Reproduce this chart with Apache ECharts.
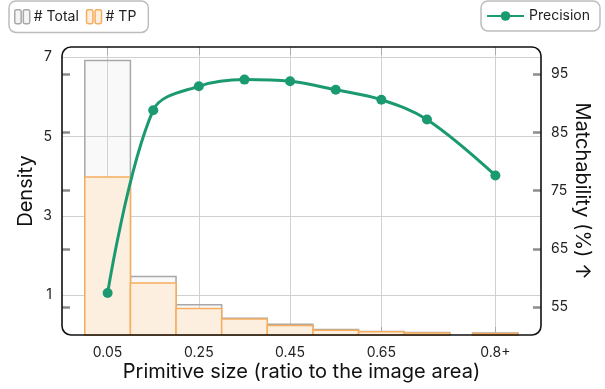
<!DOCTYPE html>
<html>
<head>
<meta charset="utf-8">
<script src="https://cdn.jsdelivr.net/npm/echarts@6/dist/echarts.min.js"></script>
<style>
html,body{margin:0;padding:0;background:#fff;}
#chart{width:605px;height:389px;}
</style>
</head>
<body>
<div id="chart"></div>
<script>
// ---- data ----
const binStart = [0.0, 0.1, 0.2, 0.3, 0.4, 0.5, 0.6, 0.7, 0.85];
const binEnd   = [0.1, 0.2, 0.3, 0.4, 0.5, 0.6, 0.7, 0.8, 0.95];
const totalDensity = [6.91, 1.47, 0.76, 0.42, 0.27, 0.14, 0.09, 0.06, 0.05];
const tpDensity    = [3.98, 1.31, 0.67, 0.40, 0.24, 0.12, 0.08, 0.05, 0.04];
const precisionX = [0.05, 0.15, 0.25, 0.35, 0.45, 0.55, 0.65, 0.75, 0.9];
const precision  = [57.4, 88.8, 92.9, 94.05, 93.76, 92.3, 90.6, 87.2, 77.6];
const xTickValues = [0.05, 0.25, 0.45, 0.65, 0.9];
const xTickLabels = ['0.05', '0.25', '0.45', '0.65', '0.8+'];
const densityTicks = [1, 3, 5, 7];
const matchTicks = [55, 65, 75, 85, 95];

const FONT = 'Inter';
const chart = echarts.init(document.getElementById('chart'));

function barRenderer(fill, stroke) {
  return function (params, api) {
    const p0 = api.coord([api.value(0), api.value(2)]);
    const p1 = api.coord([api.value(1), 0]);
    return {
      type: 'rect',
      shape: { x: p0[0], y: p0[1], width: p1[0] - p0[0], height: p1[1] - p0[1] },
      style: { fill: fill, stroke: stroke, lineWidth: 1.5 }
    };
  };
}

const barIcon = 'path://M1.5,0h3a1.5,1.5 0 0 1 1.5,1.5v10a1.5,1.5 0 0 1 -1.5,1.5h-3a1.5,1.5 0 0 1 -1.5,-1.5v-10a1.5,1.5 0 0 1 1.5,-1.5z M9.5,0h3a1.5,1.5 0 0 1 1.5,1.5v10a1.5,1.5 0 0 1 -1.5,1.5h-3a1.5,1.5 0 0 1 -1.5,-1.5v-10a1.5,1.5 0 0 1 1.5,-1.5z';

const gridL = 62, gridT = 47, gridW = 479, gridH = 288;
const XMIN = -0.05, XMAX = 1.0, MMIN = 50.2, MMAX = 99.65;
const TICK_STYLE = { color: '#8c8c8c', width: 2.5 };

function tickAxisX(pos) {
  return {
    type: 'value', gridIndex: 1, min: XMIN, max: XMAX, position: pos,
    axisLine: { show: false, onZero: false },
    axisTick: { show: true, inside: true, length: 8, customValues: xTickValues, lineStyle: { color: '#aaa', width: 1 } },
    axisLabel: { show: false },
    splitLine: { show: false }
  };
}

chart.setOption({
  animation: false,
  textStyle: { fontFamily: FONT },
  grid: [
    { left: gridL, top: gridT, width: gridW, height: gridH, show: false, outerBoundsMode: 'none', containLabel: false },
    { left: gridL, top: gridT, width: gridW, height: gridH, show: false, outerBoundsMode: 'none', containLabel: false, z: 10 }
  ],
  legend: [
    {
      left: 9, top: 1,
      padding: [8, 12, 8, 5],
      itemGap: 7,
      itemWidth: 15, itemHeight: 14,
      borderColor: '#bdbdbd', borderWidth: 1.5, borderRadius: 7,
      textStyle: { fontFamily: FONT, fontSize: 14, color: '#222', padding: [0, 0, 0, -1] },
      data: [
        { name: '# Total', icon: barIcon, itemStyle: { color: '#f4f4f4', borderColor: '#a8a8a8', borderWidth: 1.5 } },
        { name: '# TP', icon: barIcon, itemStyle: { color: '#fdeedd', borderColor: '#f6ad5d', borderWidth: 1.5 } }
      ]
    },
    {
      right: 5, top: 1,
      padding: [8, 10, 8, 5],
      itemWidth: 37, itemHeight: 12,
      borderColor: '#bdbdbd', borderWidth: 1.5, borderRadius: 7,
      textStyle: { fontFamily: FONT, fontSize: 14, color: '#222' },
      data: ['Precision']
    }
  ],
  xAxis: [
    {
      type: 'value', gridIndex: 0, min: XMIN, max: XMAX, position: 'bottom',
      name: 'Primitive size (ratio to the image area)',
      nameLocation: 'middle', nameGap: 37, nameMoveOverlap: false,
      nameTextStyle: { fontFamily: FONT, fontSize: 20, color: '#111', verticalAlign: 'middle', padding: 0 },
      axisLine: { show: false, onZero: false },
      axisTick: { show: false, customValues: xTickValues },
      axisLabel: {
        customValues: xTickValues, margin: 11, fontSize: 14, color: '#222', fontFamily: FONT,
        formatter: function (v) {
          for (let i = 0; i < xTickValues.length; i++) if (Math.abs(v - xTickValues[i]) < 1e-6) return xTickLabels[i];
          return '';
        }
      },
      splitLine: { show: true, lineStyle: { color: '#d0d0d0', width: 1 } }
    },
    tickAxisX('bottom'),
    tickAxisX('top')
  ],
  yAxis: [
    {
      type: 'value', gridIndex: 0, min: 0, max: 7.25, position: 'left',
      name: 'Density', nameLocation: 'middle', nameGap: 26, nameMoveOverlap: false,
      nameTextStyle: { fontFamily: FONT, fontSize: 20, color: '#111' },
      axisLine: { show: false, onZero: false },
      axisTick: { show: false, customValues: densityTicks },
      axisLabel: { customValues: densityTicks, margin: 10, fontSize: 14, color: '#222', fontFamily: FONT },
      splitLine: { show: true, lineStyle: { color: '#d0d0d0', width: 1 } }
    },
    {
      type: 'value', gridIndex: 0, min: MMIN, max: MMAX, position: 'right',
      name: 'Matchability (%) \u2191', nameLocation: 'middle', nameGap: 31, nameRotate: -90, nameMoveOverlap: false,
      nameTextStyle: { fontFamily: FONT, fontSize: 20, color: '#111' },
      axisLine: { show: false, onZero: false },
      axisTick: { show: true, inside: true, length: 8, customValues: matchTicks, lineStyle: TICK_STYLE },
      axisLabel: { customValues: matchTicks, margin: 10, fontSize: 14, color: '#222', fontFamily: FONT },
      splitLine: { show: false }
    },
    {
      type: 'value', gridIndex: 1, min: MMIN, max: MMAX, position: 'left',
      axisLine: { show: false, onZero: false },
      axisTick: { show: true, inside: true, length: 8, customValues: matchTicks, lineStyle: TICK_STYLE },
      axisLabel: { show: false },
      splitLine: { show: false }
    }
  ],
  graphic: [
    {
      type: 'rect', z: 100, silent: true,
      shape: { x: gridL, y: gridT, width: gridW, height: gridH, r: 9 },
      style: { fill: 'none', stroke: '#111', lineWidth: 1.6 }
    }
  ],
  series: [
    {
      name: '# Total', type: 'custom', xAxisIndex: 0, yAxisIndex: 0,
      renderItem: barRenderer('rgba(220,220,220,0.18)', '#a8a8a8'),
      encode: { x: [0, 1], y: 2 },
      itemStyle: { color: '#f4f4f4' },
      data: binStart.map((s, i) => [s, binEnd[i], totalDensity[i]]),
      z: 2
    },
    {
      name: '# TP', type: 'custom', xAxisIndex: 0, yAxisIndex: 0,
      renderItem: barRenderer('#fdefdf', '#f6ad5d'),
      encode: { x: [0, 1], y: 2 },
      itemStyle: { color: '#fdeedd' },
      data: binStart.map((s, i) => [s, binEnd[i], tpDensity[i]]),
      z: 3
    },
    {
      name: 'Precision', type: 'line', xAxisIndex: 0, yAxisIndex: 1,
      data: precisionX.map((x, i) => [x, precision[i]]),
      smooth: 0.35,
      symbol: 'circle', symbolSize: 10,
      lineStyle: { color: '#1b9a72', width: 3 },
      itemStyle: { color: '#1b9a72' },
      z: 5
    }
  ]
});
</script>
</body>
</html>
